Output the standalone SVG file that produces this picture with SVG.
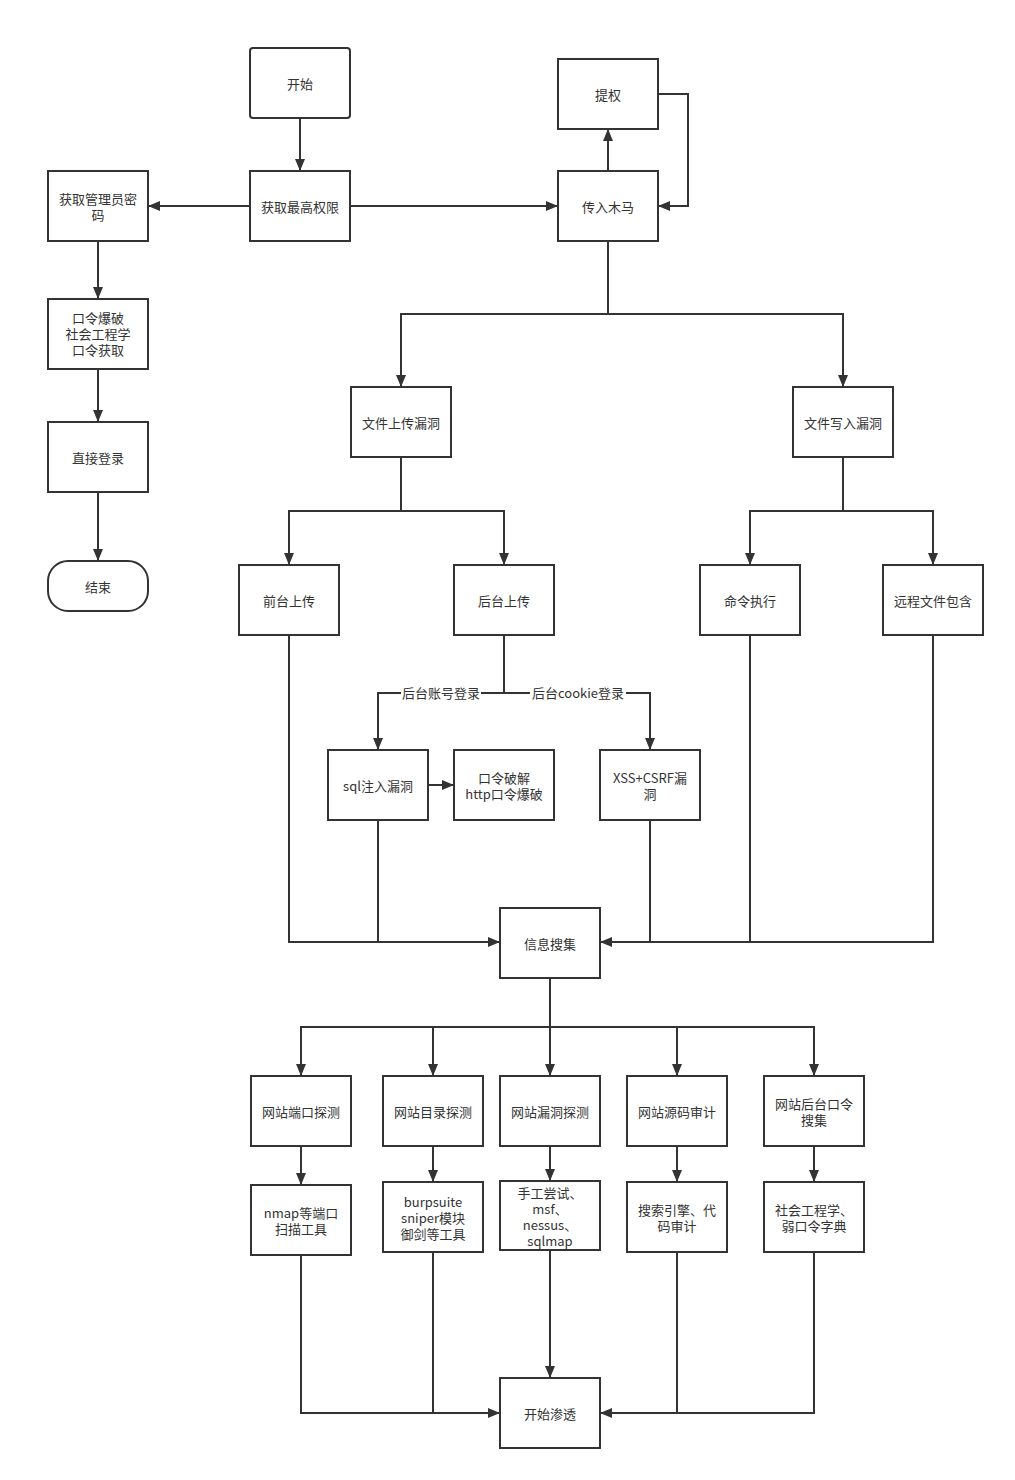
<svg xmlns="http://www.w3.org/2000/svg" width="1015" height="1480" viewBox="0 0 1015 1480">
<style>
.n rect{fill:#fff;stroke:#333;stroke-width:2}
text{font-family:"Noto Sans CJK SC","Liberation Sans",sans-serif;font-size:13px;fill:#333;text-anchor:middle;dominant-baseline:central}
.c path{fill:none;stroke:#333;stroke-width:2}
.a{marker-end:url(#ah)}
.lb{fill:#fff;stroke:none}
</style>
<defs>
<marker id="ah" markerUnits="userSpaceOnUse" markerWidth="12" markerHeight="10" refX="12" refY="5" orient="auto">
<path d="M0,0 L12,5 L0,10 z" fill="#333"/>
</marker>
</defs>
<rect width="1015" height="1480" fill="#fff"/>
<g class="c" id="connectors">
<path class="a" d="M300,118 V171"/>
<path class="a" d="M250,206 H148"/>
<path class="a" d="M350,206 H558"/>
<path class="a" d="M608,171 V129"/>
<path class="a" d="M658,94 H688 V206 H658"/>
<path class="a" d="M98,241 V299"/>
<path class="a" d="M98,369 V422"/>
<path class="a" d="M98,492 V561"/>
<path class="a" d="M608,241 V314 H401 V387"/>
<path class="a" d="M608,314 H843 V387"/>
<path class="a" d="M401,457 V511 H289 V565"/>
<path class="a" d="M401,511 H504 V565"/>
<path class="a" d="M843,457 V511 H750 V565"/>
<path class="a" d="M843,511 H933 V565"/>
<path class="a" d="M504,635 V693 H378 V750"/>
<path class="a" d="M504,693 H650 V750"/>
<path class="a" d="M428,785 H454"/>
<path class="a" d="M289,635 V942 H500"/>
<path d="M378,820 V942"/>
<path class="a" d="M933,635 V942 H600"/>
<path d="M750,635 V942"/>
<path d="M650,820 V942"/>
<path d="M550,978 V1027"/>
<path class="a" d="M550,1027 H301 V1076"/>
<path class="a" d="M433,1027 V1076"/>
<path class="a" d="M550,1027 V1076"/>
<path class="a" d="M550,1027 H814 V1076"/>
<path class="a" d="M677,1027 V1076"/>
<path class="a" d="M301,1146 V1185"/>
<path class="a" d="M433,1146 V1182"/>
<path class="a" d="M550,1146 V1181"/>
<path class="a" d="M677,1146 V1182"/>
<path class="a" d="M814,1146 V1182"/>
<path class="a" d="M301,1255 V1413 H500"/>
<path d="M433,1252 V1413"/>
<path class="a" d="M550,1250 V1378"/>
<path class="a" d="M814,1252 V1413 H600"/>
<path d="M677,1252 V1413"/>
<rect class="lb" x="401" y="685" width="80" height="16"/>
<text x="441" y="692">后台账号登录</text>
<rect class="lb" x="530" y="685" width="96" height="16"/>
<text x="578" y="692">后台cookie登录</text>
</g>
<g class="n" id="start"><rect x="250" y="48" width="100" height="70" rx="3"/><text x="300" y="83">开始</text></g>
<g class="n" id="getmax"><rect x="250" y="171" width="100" height="70"/><text x="300" y="206">获取最高权限</text></g>
<g class="n" id="admin"><rect x="48" y="171" width="100" height="70"/><text x="98" y="198">获取管理员密</text><text x="98" y="214">码</text></g>
<g class="n" id="trojan"><rect x="558" y="171" width="100" height="70"/><text x="608" y="206">传入木马</text></g>
<g class="n" id="priv"><rect x="558" y="59" width="100" height="70"/><text x="608" y="94">提权</text></g>
<g class="n" id="crack"><rect x="48" y="299" width="100" height="70"/><text x="98" y="317">口令爆破</text><text x="98" y="333">社会工程学</text><text x="98" y="349">口令获取</text></g>
<g class="n" id="login"><rect x="48" y="422" width="100" height="70"/><text x="98" y="457">直接登录</text></g>
<g class="n" id="end"><rect x="48" y="561" width="100" height="50" rx="20"/><text x="98" y="586">结束</text></g>
<g class="n" id="upload"><rect x="351" y="387" width="100" height="70"/><text x="401" y="422">文件上传漏洞</text></g>
<g class="n" id="write"><rect x="793" y="387" width="100" height="70"/><text x="843" y="422">文件写入漏洞</text></g>
<g class="n" id="front"><rect x="239" y="565" width="100" height="70"/><text x="289" y="600">前台上传</text></g>
<g class="n" id="back"><rect x="454" y="565" width="100" height="70"/><text x="504" y="600">后台上传</text></g>
<g class="n" id="cmd"><rect x="700" y="565" width="100" height="70"/><text x="750" y="600">命令执行</text></g>
<g class="n" id="rfi"><rect x="883" y="565" width="100" height="70"/><text x="933" y="600">远程文件包含</text></g>
<g class="n" id="sql"><rect x="328" y="750" width="100" height="70"/><text x="378" y="785">sql注入漏洞</text></g>
<g class="n" id="pw"><rect x="454" y="750" width="100" height="70"/><text x="504" y="777">口令破解</text><text x="504" y="793">http口令爆破</text></g>
<g class="n" id="xss"><rect x="600" y="750" width="100" height="70"/><text x="650" y="777">XSS+CSRF漏</text><text x="650" y="793">洞</text></g>
<g class="n" id="info"><rect x="500" y="908" width="100" height="70"/><text x="550" y="943">信息搜集</text></g>
<g class="n" id="port"><rect x="251" y="1076" width="100" height="70"/><text x="301" y="1111">网站端口探测</text></g>
<g class="n" id="dir"><rect x="383" y="1076" width="100" height="70"/><text x="433" y="1111">网站目录探测</text></g>
<g class="n" id="vuln"><rect x="500" y="1076" width="100" height="70"/><text x="550" y="1111">网站漏洞探测</text></g>
<g class="n" id="src"><rect x="627" y="1076" width="100" height="70"/><text x="677" y="1111">网站源码审计</text></g>
<g class="n" id="bkpw"><rect x="764" y="1076" width="100" height="70"/><text x="814" y="1103">网站后台口令</text><text x="814" y="1119">搜集</text></g>
<g class="n" id="nmap"><rect x="251" y="1185" width="100" height="70"/><text x="301" y="1212">nmap等端口</text><text x="301" y="1228">扫描工具</text></g>
<g class="n" id="burp"><rect x="383" y="1182" width="100" height="70"/><text x="433" y="1201">burpsuite</text><text x="433" y="1217">sniper模块</text><text x="433" y="1233">御剑等工具</text></g>
<g class="n" id="manual"><rect x="500" y="1181" width="100" height="69"/><text x="550" y="1192">手工尝试、</text><text x="550" y="1208">msf、</text><text x="550" y="1224">nessus、</text><text x="550" y="1240">sqlmap</text></g>
<g class="n" id="search"><rect x="627" y="1182" width="100" height="70"/><text x="677" y="1209">搜索引擎、代</text><text x="677" y="1225">码审计</text></g>
<g class="n" id="social"><rect x="764" y="1182" width="100" height="70"/><text x="814" y="1209">社会工程学、</text><text x="814" y="1225">弱口令字典</text></g>
<g class="n" id="pen"><rect x="500" y="1378" width="100" height="70"/><text x="550" y="1413">开始渗透</text></g>
</svg>
